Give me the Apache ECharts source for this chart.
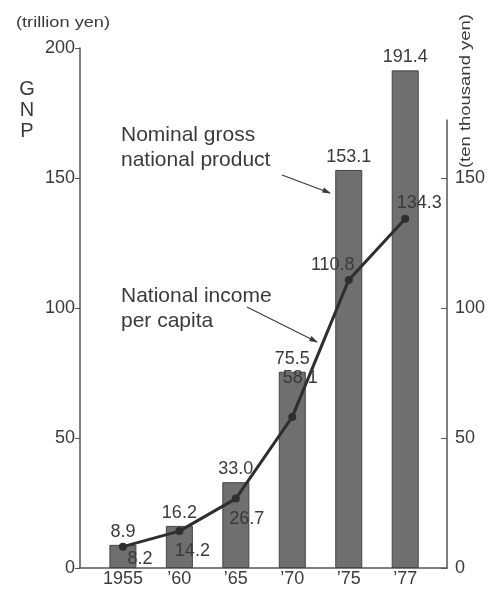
<!DOCTYPE html>
<html>
<head>
<meta charset="utf-8">
<script src="https://cdn.jsdelivr.net/npm/echarts@6/dist/echarts.min.js"></script>
<style>
  html, body { margin: 0; padding: 0; background: #fff; }
  #main { width: 494px; height: 589px; }
</style>
</head>
<body>
<div id="main"></div>
<script>
var years = ['1955', '\u201960', '\u201965', '\u201970', '\u201975', '\u201977'];
var gnp = [8.9, 16.2, 33.0, 75.5, 153.1, 191.4];          // trillion yen
var incomePerCapita = [8.2, 14.2, 26.7, 58.1, 110.8, 134.3]; // ten thousand yen
var leftTicks = [0, 50, 100, 150, 200];
var rightTicks = [0, 50, 100, 150];

// label nudges for the line values (the printed chart puts them by hand)
var incomeLabelOffsets = [[17, 12], [13, 20], [11, 20], [8, -39], [-16, -15], [14, -16]];

var font = 'Liberation Sans';
var ink = '#3a3a3a';
var axisColor = '#555';

var chart = echarts.init(document.getElementById('main'));

// category slots sit on a value axis so the outer margins can be uneven
var xRange = { min: -0.76, max: 5.74 };

var option = {
    animation: false,
    backgroundColor: '#fff',
    textStyle: { fontFamily: font, color: ink },
    grid: [
        { left: 80, right: 47, top: 48, bottom: 21 },
        { left: 80, right: 47, top: 120, bottom: 21 }
    ],
    xAxis: [
        {
            gridIndex: 0, type: 'value', min: xRange.min, max: xRange.max,
            splitLine: { show: false },
            axisLine: { lineStyle: { color: axisColor, width: 1.5 } },
            axisTick: { show: false },
            axisLabel: {
                customValues: [0, 1, 2, 3, 4, 5],
                fontSize: 18, color: ink, margin: 2,
                formatter: function (v) { return years[Math.round(v)]; }
            }
        },
        {
            gridIndex: 1, type: 'value', min: xRange.min, max: xRange.max,
            show: false, splitLine: { show: false }
        }
    ],
    yAxis: [
        {
            gridIndex: 0, type: 'value', position: 'left', min: 0, max: 200, interval: 50,
            splitLine: { show: false },
            axisLine: { show: true, onZero: false, lineStyle: { color: axisColor, width: 1.5 } },
            axisTick: { show: true, length: 5, customValues: leftTicks, lineStyle: { color: axisColor } },
            axisLabel: { fontSize: 18, color: ink, margin: 5, customValues: leftTicks }
        },
        {
            gridIndex: 1, type: 'value', position: 'right', min: 0, max: 172.3,
            splitLine: { show: false },
            axisLine: { show: true, onZero: false, lineStyle: { color: axisColor, width: 1.5 } },
            axisTick: { show: true, inside: true, length: 6, customValues: rightTicks, lineStyle: { color: axisColor } },
            axisLabel: { fontSize: 18, color: ink, margin: 8, customValues: rightTicks }
        }
    ],
    series: [
        {
            name: 'Nominal gross national product',
            type: 'bar',
            xAxisIndex: 0, yAxisIndex: 0,
            barWidth: 27,
            data: gnp.map(function (v, i) { return [i, v]; }),
            itemStyle: { color: '#6f6f6f', borderColor: '#454545', borderWidth: 1 },
            label: {
                show: true, position: 'top', distance: 4,
                fontSize: 18, color: ink, fontFamily: font,
                formatter: function (p) { return p.value[1].toFixed(1); }
            },
            z: 2
        },
        {
            name: 'National income per capita',
            type: 'line',
            xAxisIndex: 1, yAxisIndex: 1,
            data: incomePerCapita.map(function (v, i) {
                return { value: [i, v], label: { offset: incomeLabelOffsets[i] } };
            }),
            symbol: 'circle', symbolSize: 8,
            lineStyle: { color: '#2e2e2e', width: 3 },
            itemStyle: { color: '#2e2e2e' },
            label: {
                show: true, position: 'inside',
                fontSize: 18, color: ink, fontFamily: font,
                formatter: function (p) { return p.value[1].toFixed(1); }
            },
            z: 5
        }
    ],
    graphic: [
        { type: 'text', x: 16, y: 16, scaleX: 1.3, style: { text: '(trillion yen)', font: '14px ' + font, fill: ink } },
        { type: 'text', x: 27, y: 79, style: { text: 'G\nN\nP', font: '20px ' + font, fill: ink, lineHeight: 21, align: 'center' } },
        {
            type: 'text', x: 459, y: 14, rotation: Math.PI / 2, scaleX: 1.32,
            style: { text: '(ten thousand yen)', font: '14px ' + font, fill: ink, align: 'right', verticalAlign: 'top' }
        },
        { type: 'text', x: 121, y: 123, style: { text: 'Nominal gross\nnational product', font: '21px ' + font, fill: ink, lineHeight: 25 } },
        { type: 'text', x: 121, y: 284, style: { text: 'National income\nper capita', font: '21px ' + font, fill: ink, lineHeight: 25 } },
        { type: 'line', shape: { x1: 282, y1: 175, x2: 330, y2: 193 }, style: { stroke: ink, lineWidth: 1.2 } },
        { type: 'polygon', shape: { points: [[331, 193.5], [322, 192.5], [324, 187.5]] }, style: { fill: ink } },
        { type: 'line', shape: { x1: 247, y1: 307, x2: 317, y2: 342 }, style: { stroke: ink, lineWidth: 1.2 } },
        { type: 'polygon', shape: { points: [[318, 342.5], [309, 341], [311.5, 336]] }, style: { fill: ink } }
    ]
};

chart.setOption(option);
</script>
</body>
</html>
